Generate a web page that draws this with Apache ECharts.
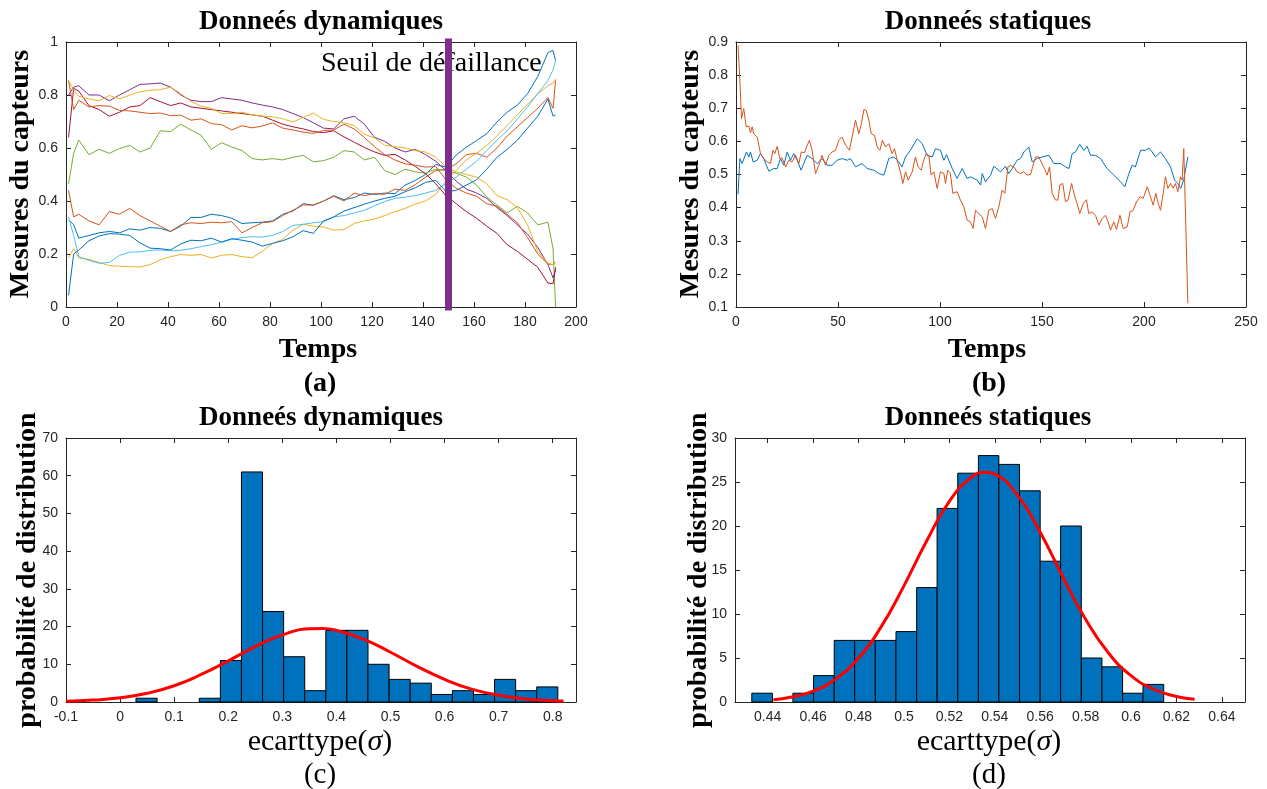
<!DOCTYPE html>
<html>
<head>
<meta charset="utf-8">
<title>Donnees capteurs</title>
<script src="https://cdn.jsdelivr.net/npm/echarts@6/dist/echarts.min.js"></script>
<style>
  html, body { margin: 0; padding: 0; background: #fff; }
  #main { width: 1267px; height: 789px; }
</style>
</head>
<body>
<div id="main"></div>
<script>
// (a) donnees dynamiques : temps commun a toutes les courbes
var timeDyn = [1,3,5,9,13,17,21,25,29,33,37,41,45,49,53,57,61,65,69,73,77,81,85,89,93,97,101,105,109,113,117,121,125,129,133,137,141,145,149,153,157,161,165,169,173,177,181,185,189,191,192];

var dynBlue1 = [0.33,0.31,0.26,0.27,0.28,0.285,0.28,0.295,0.29,0.30,
  0.297,0.285,0.305,0.338,0.338,0.35,0.345,0.335,0.315,0.318,
  0.32,0.325,0.35,0.362,0.39,0.384,0.40,0.42,0.405,0.413,
  0.43,0.425,0.43,0.428,0.46,0.478,0.50,0.538,0.528,0.573,
  0.603,0.628,0.654,0.698,0.735,0.762,0.805,0.87,0.96,0.968,0.93];
var dynOrange2 = [0.44,0.34,0.35,0.325,0.31,0.36,0.35,0.372,0.345,0.325,
  0.305,0.285,0.31,0.318,0.315,0.32,0.318,0.322,0.28,0.30,
  0.318,0.322,0.345,0.365,0.385,0.385,0.40,0.418,0.40,0.43,
  0.42,0.428,0.425,0.445,0.44,0.462,0.49,0.515,0.52,0.54,
  0.575,0.58,0.565,0.60,0.645,0.68,0.715,0.75,0.79,0.75,0.855];
var dynYellow3 = [0.185,0.22,0.185,0.18,0.168,0.156,0.154,0.152,0.151,0.16,
  0.178,0.19,0.198,0.195,0.198,0.185,0.195,0.198,0.19,0.186,
  0.21,0.24,0.255,0.29,0.312,0.305,0.302,0.29,0.292,0.315,
  0.325,0.332,0.345,0.36,0.372,0.388,0.40,0.425,0.475,0.515,
  0.555,0.58,0.61,0.645,0.685,0.725,0.765,0.805,0.835,0.845,0.86];
var dynPurple4 = [0.80,0.83,0.835,0.80,0.80,0.778,0.80,0.82,0.84,0.842,
  0.845,0.83,0.80,0.78,0.775,0.775,0.79,0.785,0.78,0.77,
  0.762,0.755,0.745,0.73,0.715,0.695,0.675,0.672,0.71,0.72,
  0.69,0.64,0.625,0.60,0.585,0.595,0.575,0.55,0.515,0.475,
  0.445,0.43,0.41,0.375,0.345,0.31,0.275,0.225,0.16,0.11,0.14];
var dynGreen5 = [0.465,0.58,0.63,0.575,0.595,0.58,0.598,0.61,0.585,0.60,
  0.665,0.662,0.69,0.668,0.648,0.595,0.62,0.604,0.59,0.56,
  0.555,0.56,0.555,0.565,0.572,0.548,0.552,0.565,0.59,0.585,
  0.555,0.565,0.515,0.50,0.52,0.51,0.505,0.52,0.515,0.505,
  0.49,0.46,0.415,0.385,0.355,0.38,0.355,0.31,0.32,0.22,0.0];
var dynLightBlue6 = [0.34,0.27,0.19,0.176,0.165,0.168,0.195,0.207,0.208,0.214,
  0.215,0.212,0.214,0.22,0.228,0.235,0.245,0.255,0.262,0.265,
  0.264,0.27,0.285,0.308,0.312,0.318,0.322,0.34,0.345,0.355,
  0.365,0.382,0.398,0.41,0.415,0.42,0.43,0.44,0.465,0.49,
  0.52,0.55,0.59,0.63,0.665,0.71,0.755,0.805,0.855,0.895,0.93];
var dynDarkRed7 = [0.64,0.825,0.815,0.76,0.745,0.72,0.735,0.755,0.76,0.79,
  0.775,0.76,0.77,0.755,0.75,0.745,0.74,0.735,0.73,0.725,
  0.72,0.705,0.69,0.68,0.672,0.662,0.658,0.665,0.642,0.622,
  0.602,0.585,0.572,0.576,0.555,0.53,0.503,0.465,0.42,0.39,
  0.36,0.335,0.305,0.278,0.235,0.21,0.18,0.15,0.09,0.088,0.15];
var dynBlue8 = [0.044,0.2,0.215,0.25,0.268,0.277,0.275,0.27,0.242,0.222,
  0.22,0.215,0.238,0.252,0.25,0.26,0.245,0.258,0.252,0.245,
  0.23,0.24,0.25,0.265,0.288,0.278,0.325,0.34,0.362,0.375,
  0.388,0.40,0.41,0.418,0.435,0.45,0.47,0.478,0.436,0.44,
  0.46,0.48,0.52,0.565,0.595,0.63,0.675,0.72,0.785,0.72,0.725];
var dynOrange9 = [0.855,0.745,0.78,0.755,0.76,0.758,0.742,0.74,0.735,0.73,
  0.732,0.722,0.724,0.705,0.71,0.692,0.688,0.668,0.684,0.676,
  0.683,0.695,0.675,0.668,0.66,0.655,0.666,0.668,0.69,0.672,
  0.64,0.605,0.575,0.555,0.54,0.535,0.528,0.53,0.48,0.448,
  0.43,0.418,0.39,0.38,0.35,0.318,0.262,0.2,0.162,0.16,0.17];
var dynYellow10 = [0.855,0.82,0.795,0.785,0.778,0.798,0.785,0.80,0.812,0.818,
  0.82,0.83,0.805,0.776,0.758,0.75,0.73,0.73,0.735,0.725,
  0.72,0.718,0.71,0.698,0.715,0.732,0.708,0.70,0.695,0.685,
  0.652,0.638,0.61,0.605,0.60,0.59,0.585,0.565,0.53,0.51,
  0.50,0.49,0.465,0.42,0.405,0.375,0.31,0.21,0.165,0.16,0.17];

var failureTime = 150;
var failureText = 'Seuil de défaillance';
var failureTextAt = [100, 0.92];

// (b) donnees statiques : [temps, mesure]
var staticBlue = [[1,0.44],[1.9,0.548],[3,0.533],[5.1,0.568],[6.3,0.553],[7.1,0.568],[8.4,0.538],[10.4,0.543],[12,0.563],[13.6,0.548],
  [16.1,0.51],[18.5,0.518],[20.2,0.518],[21.8,0.548],[23.4,0.528],[25.1,0.568],[26.7,0.543],[28.3,0.563],[30,0.543],[31.9,0.513],
  [34.9,0.558],[37.3,0.548],[39.8,0.533],[42.2,0.548],[44.7,0.528],[47.1,0.528],[49.6,0.543],[52,0.548],[54.5,0.543],[56.1,0.548],
  [58.6,0.523],[61.8,0.533],[64.3,0.518],[67.6,0.513],[70,0.503],[72.5,0.498],[74.9,0.548],[77.4,0.553],[79.8,0.538],[81.4,0.523],
  [83.1,0.553],[85.5,0.573],[88.8,0.608],[91.3,0.593],[93.7,0.558],[96.2,0.553],[97.8,0.578],[100.2,0.573],[101.9,0.543],[103.2,0.56],
  [106,0.518],[108.4,0.488],[110.9,0.518],[113.3,0.488],[115,0.493],[116.6,0.488],[118.2,0.483],[119.9,0.468],[120.7,0.503],[122.3,0.478],
  [124.8,0.498],[126.4,0.525],[129.7,0.508],[132.1,0.525],[133.7,0.503],[135.4,0.518],[137.8,0.543],[139.5,0.548],[141.1,0.568],[143.5,0.583],
  [145.2,0.538],[147.6,0.548],[150.1,0.553],[153.4,0.558],[155.8,0.533],[159.1,0.533],[161.5,0.523],[163.2,0.518],[164.8,0.563],[166.4,0.568],
  [168.5,0.591],[170.5,0.573],[172.1,0.585],[173.8,0.558],[176.2,0.558],[178.7,0.548],[181.9,0.518],[185.2,0.498],[188.5,0.478],[190.6,0.463],
  [192.6,0.503],[194.2,0.528],[195.8,0.523],[198.3,0.573],[200.7,0.573],[202.4,0.58],[204,0.568],[205.6,0.553],[208.1,0.568],[210.5,0.548],
  [213,0.523],[215,0.483],[216.3,0.475],[218,0.458],[219.5,0.485],[221.5,0.553]];
var staticOrange = [[1,0.89],[1.9,0.784],[2.7,0.669],[3.8,0.699],[5,0.644],[6.3,0.646],[7.1,0.626],[7.9,0.644],[8.7,0.623],[10.4,0.613],
  [12,0.563],[13.6,0.548],[15.3,0.538],[16.9,0.533],[18.1,0.573],[19,0.563],[20.2,0.585],[21.5,0.548],[22.6,0.55],[24.3,0.523],
  [25.9,0.543],[27.5,0.538],[29.2,0.558],[30.8,0.533],[32,0.568],[33.6,0.566],[34.9,0.588],[36,0.603],[37.3,0.573],[39,0.503],
  [40.6,0.528],[42.2,0.558],[43.9,0.528],[45.5,0.558],[47.1,0.568],[48.8,0.573],[50.4,0.603],[52,0.613],[53.7,0.588],[55.6,0.573],
  [56.9,0.613],[58.6,0.664],[60.2,0.623],[61.5,0.654],[62.7,0.696],[63.8,0.694],[65.1,0.664],[66.3,0.623],[67.9,0.618],[69.2,0.583],
  [70.5,0.573],[71.8,0.603],[73.3,0.583],[74.9,0.593],[76.5,0.563],[77.7,0.578],[79,0.543],[80.6,0.508],[81.8,0.473],[83.1,0.508],
  [84.4,0.483],[86.4,0.508],[88,0.553],[89.3,0.523],[90.8,0.513],[92,0.543],[93.2,0.563],[94.5,0.558],[95.7,0.498],[97,0.508],
  [98.6,0.458],[100.2,0.508],[101.9,0.503],[102.7,0.473],[103.8,0.513],[105.1,0.503],[106.3,0.443],[108.4,0.448],[110,0.423],[111.7,0.402],
  [113.3,0.362],[114.9,0.357],[116.2,0.337],[117.4,0.392],[119,0.382],[120.7,0.372],[122.3,0.337],[123.9,0.392],[125.6,0.397],[127.2,0.367],
  [128.8,0.402],[130.5,0.453],[131.8,0.443],[133.3,0.523],[134.6,0.528],[136.2,0.523],[137.8,0.508],[139.5,0.503],[141.1,0.508],[142.7,0.498],
  [144.4,0.50],[145.2,0.518],[146.8,0.553],[148.4,0.553],[149.6,0.538],[151.2,0.518],[152.5,0.498],[153.7,0.523],[155,0.443],[156.6,0.423],
  [157.8,0.423],[158.7,0.468],[160.2,0.473],[161.5,0.418],[162.8,0.423],[164.5,0.473],[166.1,0.433],[167.2,0.412],[168.5,0.382],[170.2,0.412],
  [171.8,0.424],[172.9,0.382],[174.6,0.387],[176.2,0.377],[177.9,0.347],[179.5,0.367],[181.1,0.377],[182.4,0.357],[183.6,0.332],[185.2,0.357],
  [186.5,0.334],[188.2,0.377],[189.8,0.337],[191.8,0.342],[193.1,0.387],[194.7,0.392],[196.3,0.417],[198,0.433],[199.6,0.428],[201.6,0.463],
  [203.2,0.433],[204.5,0.407],[205.8,0.443],[207,0.412],[208.1,0.392],[209.4,0.443],[210.5,0.493],[211.7,0.458],[213,0.473],[214.3,0.458],
  [215.4,0.473],[216.6,0.448],[217.9,0.493],[218.7,0.483],[219.5,0.578],[221.5,0.111]];

// (c) histogramme dynamique
var histDynEdges = [0.0294,0.0684,0.1074,0.1464,0.1854,0.2244,0.2634,0.3024,0.3414,0.3804,0.4194,0.4584,0.4974,0.5364,0.5754,0.6144,0.6534,0.6924,0.7314,0.7704,0.8094];
var histDynCounts = [1,0,0,1,11,61,24,12,3,19,19,10,6,5,2,3,2,6,3,4];
var fitDynX = [-0.1,-0.05,0,0.05,0.1,0.15,0.2,0.25,0.3,0.35,0.375,0.4,0.45,0.5,0.55,0.6,0.65,0.7,0.75,0.8,0.82];
var fitDynY = [0.2,0.5,1.1,2.3,4.3,7.3,10.9,14.7,17.8,19.4,19.5,19.0,16.7,13.2,9.4,6.0,3.4,1.8,0.8,0.35,0.25];
var ticksDynX = [-0.1,0,0.1,0.2,0.3,0.4,0.5,0.6,0.7,0.8];

// (d) histogramme statique
var histStatEdges = [0.4330,0.4421,0.4511,0.4602,0.4693,0.4783,0.4874,0.4965,0.5056,0.5146,0.5237,0.5328,0.5418,0.5509,0.5600,0.5690,0.5781,0.5872,0.5963,0.6053,0.6144];
var histStatCounts = [1,0,1,3,7,7,7,8,13,22,26,28,27,24,16,20,5,4,1,2];
var fitStatX = [0.4425,0.45,0.46,0.47,0.48,0.49,0.5,0.51,0.52,0.53,0.536,0.54,0.55,0.56,0.57,0.58,0.59,0.6,0.61,0.62,0.628];
var fitStatY = [0.26,0.53,1.24,2.63,5.0,8.56,13.2,18.3,22.8,25.6,26.1,25.9,23.5,19.3,14.2,9.4,5.6,3.0,1.45,0.63,0.30];
var ticksStatX = [0.44,0.46,0.48,0.5,0.52,0.54,0.56,0.58,0.6,0.62,0.64];

var myChart = echarts.init(document.getElementById('main'));

var axisColor = '#262626';
var serif = '"Liberation Serif", "Times New Roman", serif';

function tickLabel() {
    return { color: axisColor, fontFamily: 'Liberation Sans', fontSize: 14, margin: 8 };
}

// axe a gauche/bas avec etiquettes + axe miroir en haut/a droite, ticks vers l'interieur (boite matlab)
function boxAxis(grid, pos, min, max, interval, custom) {
    var labelled = (pos == 'bottom' || pos == 'left');
    var ax = {
        gridIndex: grid, type: 'value', position: pos, min: min, max: max,
        splitLine: { show: false },
        axisLine: { show: true, onZero: false, lineStyle: { color: axisColor, width: 1 } },
        axisTick: { show: true, inside: true, length: 5, lineStyle: { color: axisColor, width: 1 } },
        axisLabel: labelled ? tickLabel() : { show: false }
    };
    if (interval) ax.interval = interval;
    if (custom) {
        ax.axisTick.customValues = custom;
        if (labelled) ax.axisLabel.customValues = custom;
    }
    return ax;
}

function histData(edges, counts) {
    var out = [];
    for (var i = 0; i < counts.length; i++) {
        if (counts[i] > 0) out.push([edges[i], edges[i + 1], counts[i]]);
    }
    return out;
}

function renderBar(params, api) {
    var p0 = api.coord([api.value(0), api.value(2)]);
    var p1 = api.coord([api.value(1), 0]);
    return {
        type: 'rect',
        shape: { x: p0[0], y: p0[1], width: p1[0] - p0[0], height: p1[1] - p0[1] },
        style: { fill: '#0072BD', stroke: '#000000', lineWidth: 1 }
    };
}

function zip(xs, ys) {
    return xs.map(function (x, i) { return [x, ys[i]]; });
}

var dynLines = [
    { values: dynBlue1, color: '#0072BD' },
    { values: dynOrange2, color: '#D95319' },
    { values: dynYellow3, color: '#EDB120' },
    { values: dynPurple4, color: '#7E2F8E' },
    { values: dynGreen5, color: '#77AC30' },
    { values: dynLightBlue6, color: '#4DBEEE' },
    { values: dynDarkRed7, color: '#A2142F' },
    { values: dynBlue8, color: '#0072BD' },
    { values: dynOrange9, color: '#D95319' },
    { values: dynYellow10, color: '#EDB120' }
];

var series = [];

dynLines.forEach(function (d) {
    series.push({
        type: 'line', xAxisIndex: 0, yAxisIndex: 0,
        data: zip(timeDyn, d.values),
        symbol: 'none', z: 2,
        lineStyle: { width: 1, color: d.color },
        itemStyle: { color: d.color }
    });
});

// texte du seuil, place en coordonnees de donnees
series.push({
    type: 'scatter', xAxisIndex: 0, yAxisIndex: 0, z: 3, silent: true,
    data: [failureTextAt], symbolSize: 0,
    label: {
        show: true, position: 'right', distance: 0, formatter: failureText,
        color: '#000000', opacity: 1, fontFamily: serif, fontSize: 28
    }
});

series.push({
    type: 'line', xAxisIndex: 0, yAxisIndex: 0, z: 5, clip: false,
    data: [[failureTime, 0], [failureTime, 1]], symbol: 'none',
    lineStyle: { width: 7, color: '#7E2F8E', cap: 'square' }
});

series.push({
    type: 'line', xAxisIndex: 2, yAxisIndex: 2, data: staticBlue, symbol: 'none',
    lineStyle: { width: 1, color: '#0072BD' }, itemStyle: { color: '#0072BD' }
});
series.push({
    type: 'line', xAxisIndex: 2, yAxisIndex: 2, data: staticOrange, symbol: 'none',
    lineStyle: { width: 1, color: '#D95319' }, itemStyle: { color: '#D95319' }
});

series.push({
    type: 'custom', xAxisIndex: 4, yAxisIndex: 4, renderItem: renderBar,
    encode: { x: [0, 1], y: 2 }, data: histData(histDynEdges, histDynCounts)
});
series.push({
    type: 'line', xAxisIndex: 4, yAxisIndex: 4, z: 4, data: zip(fitDynX, fitDynY),
    smooth: true, symbol: 'none', lineStyle: { width: 3, color: '#FF0000' }
});

series.push({
    type: 'custom', xAxisIndex: 6, yAxisIndex: 6, renderItem: renderBar,
    encode: { x: [0, 1], y: 2 }, data: histData(histStatEdges, histStatCounts)
});
series.push({
    type: 'line', xAxisIndex: 6, yAxisIndex: 6, z: 4, data: zip(fitStatX, fitStatY),
    smooth: true, symbol: 'none', lineStyle: { width: 3, color: '#FF0000' }
});

function txt(x, y, text, font, rot) {
    return {
        type: 'text', x: x, y: y, rotation: rot || 0, silent: true,
        style: { text: text, font: font, fill: '#000', textAlign: 'center', textVerticalAlign: 'middle' }
    };
}

var boldTitle = 'bold 27px ' + serif;
var boldLabel = 'bold 28px ' + serif;
var plainLabel = '30px ' + serif;

function sigmaLabel(x, y) {
    return {
        type: 'text', x: x, y: y, silent: true,
        style: {
            text: 'ecarttype({s|σ})', font: plainLabel, fill: '#000',
            textAlign: 'center', textVerticalAlign: 'middle',
            rich: { s: { fontStyle: 'italic', fontSize: 30, fontFamily: serif, fill: '#000' } }
        }
    };
}

var option = {
    animation: false,
    backgroundColor: '#ffffff',
    grid: [
        { left: 66, top: 42, width: 510, height: 265, outerBoundsMode: 'none' },
        { left: 736, top: 42, width: 510, height: 265, outerBoundsMode: 'none' },
        { left: 66, top: 438, width: 510, height: 264, outerBoundsMode: 'none' },
        { left: 735, top: 438, width: 510, height: 264, outerBoundsMode: 'none' }
    ],
    xAxis: [
        boxAxis(0, 'bottom', 0, 200, 20), boxAxis(0, 'top', 0, 200, 20),
        boxAxis(1, 'bottom', 0, 250, 50), boxAxis(1, 'top', 0, 250, 50),
        boxAxis(2, 'bottom', -0.1, 0.843, null, ticksDynX), boxAxis(2, 'top', -0.1, 0.843, null, ticksDynX),
        boxAxis(3, 'bottom', 0.4256, 0.6502, null, ticksStatX), boxAxis(3, 'top', 0.4256, 0.6502, null, ticksStatX)
    ],
    yAxis: [
        boxAxis(0, 'left', 0, 1, 0.2), boxAxis(0, 'right', 0, 1, 0.2),
        boxAxis(1, 'left', 0.1, 0.9, 0.1), boxAxis(1, 'right', 0.1, 0.9, 0.1),
        boxAxis(2, 'left', 0, 70, 10), boxAxis(2, 'right', 0, 70, 10),
        boxAxis(3, 'left', 0, 30, 5), boxAxis(3, 'right', 0, 30, 5)
    ],
    graphic: [
        txt(321, 22, 'Donneés dynamiques', boldTitle),
        txt(988, 22, 'Donneés statiques', boldTitle),
        txt(321, 418, 'Donneés dynamiques', boldTitle),
        txt(988, 418, 'Donneés statiques', boldTitle),
        txt(21, 174, 'Mesures du capteurs', boldLabel, Math.PI / 2),
        txt(691, 174, 'Mesures du capteurs', boldLabel, Math.PI / 2),
        txt(28, 570, 'probabilité de distribution', boldLabel, Math.PI / 2),
        txt(699, 570, 'probabilité de distribution', boldLabel, Math.PI / 2),
        txt(318, 350, 'Temps', boldLabel),
        txt(987, 350, 'Temps', boldLabel),
        txt(320, 384, '(a)', boldLabel),
        txt(989, 384, '(b)', boldLabel),
        sigmaLabel(320, 742),
        sigmaLabel(989, 742),
        txt(320, 775, '(c)', '29px ' + serif),
        txt(989, 775, '(d)', '29px ' + serif)
    ],
    series: series
};

myChart.setOption(option);
</script>
</body>
</html>
